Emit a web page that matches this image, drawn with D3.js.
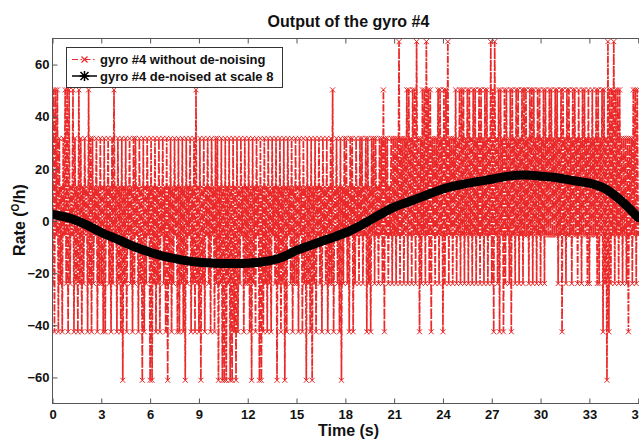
<!DOCTYPE html>
<html><head><meta charset="utf-8">
<script src="https://cdn.jsdelivr.net/npm/d3@7"></script>
<style>
body{margin:0;background:#fff}
svg{display:block}
text{font-family:"Liberation Sans",Arial,sans-serif;font-weight:bold;fill:#111}
</style>
</head><body>
<svg id="chart" width="639" height="439"></svg>
<script>
// ---- data ----
const chartTitle = "Output of the gyro #4";
const xLabel = "Time (s)";
const seriesNames = ["gyro #4 without de-noising", "gyro #4 de-noised at scale 8"];
const xTicks = [0, 3, 6, 9, 12, 15, 18, 21, 24, 27, 30, 33, 36];
const yTicks = [-60, -40, -20, 0, 20, 40, 60];
// quantisation levels of the raw gyro output (deg/h)
const quantLevels = [-61.1, -42.5, -24.0, -5.4, 13.1, 31.7, 50.3, 68.8];
const sampleInterval = 0.06; // s
// raw samples: each digit is an index into quantLevels
const rawLevelCodes = [
  "26163615241536261624361524162514253416251524351425",
  "24151435241526341524150425143524152534152405142534",
  "05042514251435241504251425341514251405243514251624",
  "15042514352415341525042504050425040514051425341524",
  "25140524153405041524152415342504251425041534251425",
  "24153415240524150425143524153425142526143524150425",
  "35241535142534253524351524153525342535261535243525",
  "35253725352536263526362735152636273626153525362635",
  "16263725352536253626362536263526362536263526362537",
  "26173526163516263526163526362536263635263626352636",
  "25362635363635363625361635263635263635263526363526",
  "25363536262536162507162637263626352535251535263626",
  "3"
];
const denoisedTime = [0,1,2,3,4,5,6,7,8,9,10,11,12,13,14,15,16,17,18,19,20,21,22,23,24,25,26,27,28,29,30,31,32,33,34,35,36];
const denoisedRate = [2.5,1.2,-1.2,-4.4,-7,-9.8,-12,-13.8,-15,-15.8,-16.2,-16.3,-16.2,-15.6,-14.2,-11.3,-9,-6.8,-4.5,-1.5,2,5.3,7.6,10,12.3,13.8,15,16,17.2,17.6,17.2,16.6,15.5,14.5,12.3,7.5,1.3];

// ---- derived records ----
const rawCodes = rawLevelCodes.join("");
const raw = Array.from(rawCodes, (c, i) => ({t: i * sampleInterval, v: quantLevels[+c]}));
const denoised = denoisedTime.map((t, i) => ({t, v: denoisedRate[i]}));

// ---- layout ----
const svg = d3.select("#chart");
const pL = 52.5, pR = 644.7, pT = 38.5, pB = 403.5;
const x = d3.scaleLinear().domain([0, 36.4]).range([pL, pR]);
const y = d3.scaleLinear().domain([-70, 70]).range([pB, pT]);
const red = "#ea2a2a";

svg.append("defs").append("clipPath").attr("id", "clip")
  .append("rect").attr("x", pL).attr("y", pT - 3).attr("width", pR - pL).attr("height", pB - pT + 3);

const plot = svg.append("g").attr("clip-path", "url(#clip)");

// raw noisy series: dash-dot line with x markers
const rawLine = d3.line().x(d => x(d.t)).y(d => y(d.v));
plot.append("path").datum(raw)
  .attr("d", rawLine)
  .attr("fill", "none").attr("stroke", red).attr("stroke-width", 1.7)
  .attr("stroke-dasharray", "7,1.5,2,1.5");
const xm = 2.5;
plot.append("path")
  .attr("d", raw.map(d => {
    const px = x(d.t), py = y(d.v);
    return `M${px - xm},${py - xm}L${px + xm},${py + xm}M${px - xm},${py + xm}L${px + xm},${py - xm}`;
  }).join(""))
  .attr("fill", "none").attr("stroke", red).attr("stroke-width", 1);

// de-noised series: thick black curve
const denLine = d3.line().x(d => x(d.t)).y(d => y(d.v)).curve(d3.curveCatmullRom.alpha(0.5));
plot.append("path").datum(denoised)
  .attr("d", denLine)
  .attr("fill", "none").attr("stroke", "#000").attr("stroke-width", 9)
  .attr("stroke-linecap", "round").attr("stroke-linejoin", "round");

// ---- axes ----
const axisColor = "#555";
const styleAxis = g => {
  g.select(".domain").remove();
  g.selectAll(".tick line").attr("stroke", axisColor);
  g.selectAll("text").attr("font-size", 13).attr("fill", "#111");
  g.attr("font-family", null).attr("font-size", null);
};
svg.append("g").attr("transform", `translate(0,${pB})`)
  .call(d3.axisBottom(x).tickValues(xTicks).tickSize(-5).tickPadding(6).tickFormat(d3.format("d")))
  .call(styleAxis);
svg.append("g").attr("transform", `translate(0,${pT})`)
  .call(d3.axisTop(x).tickValues(xTicks).tickSize(-5).tickFormat(""))
  .call(styleAxis);
svg.append("g").attr("transform", `translate(${pL},0)`)
  .call(d3.axisLeft(y).tickValues(yTicks).tickSize(-5).tickPadding(3).tickFormat(d3.format("d")))
  .call(styleAxis);
svg.append("g").attr("transform", `translate(${pR},0)`)
  .call(d3.axisRight(y).tickValues(yTicks).tickSize(-5).tickFormat(""))
  .call(styleAxis);

// frame
svg.append("rect").attr("x", pL).attr("y", pT).attr("width", pR - pL).attr("height", pB - pT)
  .attr("fill", "none").attr("stroke", axisColor).attr("stroke-width", 1);

// ---- titles ----
svg.append("text").attr("x", 348.5).attr("y", 27).attr("text-anchor", "middle")
  .attr("font-size", 16).text(chartTitle);
svg.append("text").attr("x", 348.5).attr("y", 435.5).attr("text-anchor", "middle")
  .attr("font-size", 16).text(xLabel);
const yl = svg.append("text").attr("transform", "translate(25,220) rotate(-90)")
  .attr("text-anchor", "middle").attr("font-size", 16);
yl.append("tspan").text("Rate (");
yl.append("tspan").attr("dy", -6).attr("font-size", 10).text("O");
yl.append("tspan").attr("dy", 6).text("/h)");

// ---- legend ----
const lg = svg.append("g");
lg.append("rect").attr("x", 66.5).attr("y", 47.5).attr("width", 216).attr("height", 40)
  .attr("fill", "#fff").attr("stroke", "#333").attr("stroke-width", 1);
const legendRows = [
  {name: seriesNames[0], color: red, dash: "6,2.5,1.5,2.5", marker: "x", cy: 59.5},
  {name: seriesNames[1], color: "#000", dash: null, marker: "*", cy: 76}
];
legendRows.forEach(r => {
  lg.append("line").attr("x1", 72).attr("x2", 97).attr("y1", r.cy).attr("y2", r.cy)
    .attr("stroke", r.color).attr("stroke-width", r.marker === "*" ? 1.5 : 1.2)
    .attr("stroke-dasharray", r.dash);
  const mx = 84.5, s = r.marker === "*" ? 4 : 3;
  let d = `M${mx - s},${r.cy - s}L${mx + s},${r.cy + s}M${mx - s},${r.cy + s}L${mx + s},${r.cy - s}`;
  if (r.marker === "*") d += `M${mx},${r.cy - s - 1}L${mx},${r.cy + s + 1}M${mx - s - 1},${r.cy}L${mx + s + 1},${r.cy}`;
  lg.append("path").attr("d", d).attr("stroke", r.color).attr("stroke-width", r.marker === "*" ? 1.5 : 1.2).attr("fill", "none");
  lg.append("text").attr("x", 100).attr("y", r.cy + 4.5).attr("font-size", 13).text(r.name);
});
</script>
</body></html>
